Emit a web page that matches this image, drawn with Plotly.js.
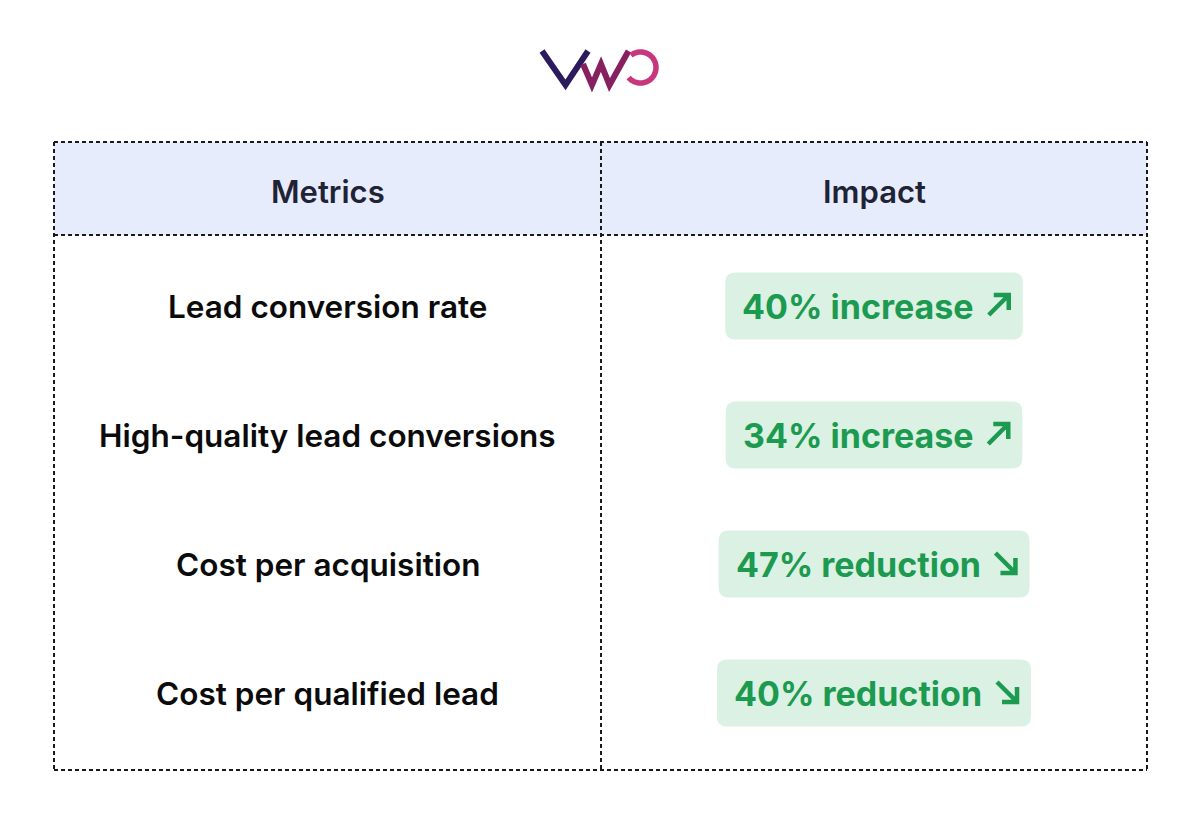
<!DOCTYPE html>
<html>
<head>
<meta charset="utf-8">
<script src="https://cdn.plot.ly/plotly-3.0.1.min.js"></script>
<style>
  html, body { margin: 0; padding: 0; background: #ffffff; }
  #chart { width: 1200px; height: 820px; }
</style>
</head>
<body>
<div id="chart"></div>
<script>
// ---------------- data ----------------
const headers = ['Metrics', 'Impact'];
const metrics = [
  'Lead conversion rate',
  'High-quality lead conversions',
  'Cost per acquisition',
  'Cost per qualified lead'
];
const impactPercent = [40, 34, 47, 40];
const impactDirection = ['increase', 'increase', 'reduction', 'reduction'];

// ---------------- layout constants ----------------
const W = 1200, H = 820;
const tableLeft = 54, tableRight = 1147, tableTop = 142, tableBottom = 770;
const headerBottom = 235, colDivider = 601;
const firstRowY = 306, rowPitch = 129;
const badgeH = 67, padL = 15, padR = 12, arrowGap = 15, arrowSize = 24, badgeRadius = 10;
const fontFamily = 'Inter, "Noto Sans", "DejaVu Sans", sans-serif';
const badgeFontSize = 34, metricFontSize = 31.5, headerFontSize = 31;
const green = '#1c9a50';

const leftCenter = (tableLeft + colDivider) / 2;
const rightCenter = (colDivider + tableRight) / 2;
const headerCenterY = (tableTop + headerBottom) / 2 + 3;

// measure text with canvas for badge widths
const cv = document.createElement('canvas');
const ctx = cv.getContext('2d');
function textWidth(t, size, weight) {
  ctx.font = weight + ' ' + size + 'px ' + fontFamily;
  return ctx.measureText(t).width;
}

function roundRect(x0, y0, x1, y1, r) {
  return `M ${x0 + r} ${y0} L ${x1 - r} ${y0} Q ${x1} ${y0} ${x1} ${y0 + r} ` +
         `L ${x1} ${y1 - r} Q ${x1} ${y1} ${x1 - r} ${y1} L ${x0 + r} ${y1} ` +
         `Q ${x0} ${y1} ${x0} ${y1 - r} L ${x0} ${y0 + r} Q ${x0} ${y0} ${x0 + r} ${y0} Z`;
}

const shapes = [];
const annotations = [];

// header fill
shapes.push({type: 'rect', xref: 'x', yref: 'y', x0: tableLeft, x1: tableRight,
  y0: tableTop, y1: headerBottom, fillcolor: '#e7ecfd', line: {width: 0}, layer: 'below'});

// badges + texts
metrics.forEach((m, i) => {
  const cy = firstRowY + rowPitch * i;
  annotations.push({x: leftCenter, y: cy, xref: 'x', yref: 'y', text: m, showarrow: false,
    xanchor: 'center', yanchor: 'middle',
    font: {family: fontFamily, size: metricFontSize, color: '#0b0b0b', weight: 600}});

  const label = impactPercent[i] + '% ' + impactDirection[i];
  const tw = textWidth(label, badgeFontSize, 700);
  const bw = padL + tw + arrowGap + arrowSize + padR;
  const bx0 = rightCenter - bw / 2, bx1 = rightCenter + bw / 2;
  shapes.push({type: 'path', xref: 'x', yref: 'y', layer: 'below',
    path: roundRect(bx0, cy - badgeH / 2, bx1, cy + badgeH / 2, badgeRadius),
    fillcolor: '#dbf1e3', line: {width: 0}});
  annotations.push({x: bx0 + padL, y: cy, xref: 'x', yref: 'y', text: label, showarrow: false,
    xanchor: 'left', yanchor: 'middle',
    font: {family: fontFamily, size: badgeFontSize, color: green, weight: 700}});

  // arrow icon
  const ax0 = bx1 - padR - arrowSize + 2, ax1 = bx1 - padR - 2;
  const ay0 = cy - 1 - arrowSize / 2 + 2, ay1 = cy - 1 + arrowSize / 2 - 2;
  const headLen = 15;
  let path;
  if (impactDirection[i] === 'increase') {
    path = `M ${ax0} ${ay1} L ${ax1} ${ay0} M ${ax1 - headLen} ${ay0} L ${ax1} ${ay0} L ${ax1} ${ay0 + headLen}`;
  } else {
    path = `M ${ax0} ${ay0} L ${ax1} ${ay1} M ${ax1} ${ay1 - headLen} L ${ax1} ${ay1} L ${ax1 - headLen} ${ay1}`;
  }
  shapes.push({type: 'path', xref: 'x', yref: 'y', path, line: {color: green, width: 4.5}});
});

// headers
headers.forEach((h, j) => {
  annotations.push({x: j === 0 ? leftCenter : rightCenter, y: headerCenterY, xref: 'x', yref: 'y',
    text: h, showarrow: false, xanchor: 'center', yanchor: 'middle',
    font: {family: fontFamily, size: headerFontSize, color: '#1f2336', weight: 600}});
});

// dotted grid lines
const dot = {color: '#1a1a1a', width: 2, dash: '4px,3px'};
function seg(x0, y0, x1, y1) {
  shapes.push({type: 'line', xref: 'x', yref: 'y', x0, y0, x1, y1, line: dot, layer: 'above'});
}
seg(tableLeft, tableTop, tableRight, tableTop);
seg(tableLeft, headerBottom, tableRight, headerBottom);
seg(tableLeft, tableBottom, tableRight, tableBottom);
seg(tableLeft, tableTop, tableLeft, tableBottom);
seg(tableRight, tableTop, tableRight, tableBottom);
seg(colDivider, tableTop, colDivider, tableBottom);

// logo (VWO)
shapes.push({type: 'path', xref: 'x', yref: 'y', path: 'M 542 51 L 565.5 85 L 588 51',
  line: {color: '#2b1b5c', width: 6}});
shapes.push({type: 'path', xref: 'x', yref: 'y', path: 'M 583 64 L 592 85 L 601 64 L 609.5 85 L 628.5 51',
  line: {color: '#86205e', width: 6}});
(function () {
  const cx = 640.5, cy = 67.5, r = 15.5;
  let p = '';
  for (let a = -128; a <= 140; a += 4) {
    const t = a * Math.PI / 180;
    p += (p ? ' L ' : 'M ') + (cx + r * Math.cos(t)).toFixed(2) + ' ' + (cy + r * Math.sin(t)).toFixed(2);
  }
  shapes.push({type: 'path', xref: 'x', yref: 'y', path: p, line: {color: '#c8377e', width: 5.5}});
})();

const layout = {
  width: W, height: H,
  margin: {l: 0, r: 0, t: 0, b: 0},
  paper_bgcolor: '#ffffff', plot_bgcolor: '#ffffff',
  xaxis: {range: [0, W], visible: false, fixedrange: true},
  yaxis: {range: [H, 0], visible: false, fixedrange: true},
  showlegend: false,
  shapes, annotations
};

Plotly.newPlot('chart', [], layout, {displayModeBar: false, staticPlot: true});
</script>
</body>
</html>
